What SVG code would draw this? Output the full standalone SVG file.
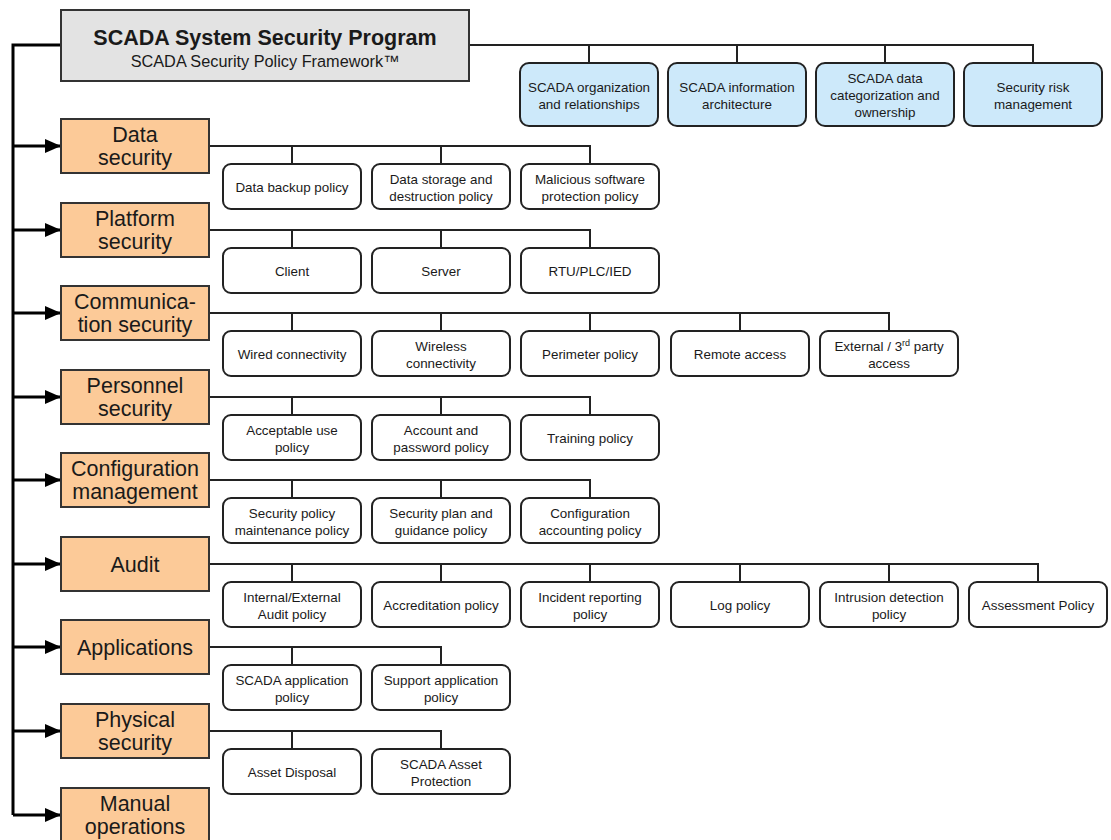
<svg xmlns="http://www.w3.org/2000/svg" width="1111" height="840" viewBox="0 0 1111 840">
<defs>
<marker id="arr" markerUnits="userSpaceOnUse" markerWidth="17" markerHeight="15" refX="16" refY="7" orient="auto"><path d="M0,0 L16,7 L0,14 z" fill="#000"/></marker>
<style>
.t{font-family:"Liberation Sans",Arial,sans-serif;fill:#1a1a1a;text-anchor:middle}
.title{font-size:21.5px;font-weight:bold}
.sub{font-size:16.3px}
.cat{font-size:21.5px}
.ch{font-size:13.4px}
.top{fill:#e3e3e3;stroke:#333;stroke-width:2}
.org{fill:#fcca98;stroke:#333;stroke-width:2}
.blue{fill:#cde9fa;stroke:#222;stroke-width:2}
.box{fill:#fff;stroke:#222;stroke-width:2}
.trunk{fill:none;stroke:#000;stroke-width:3}
.br{fill:none;stroke:#222;stroke-width:2}
</style>
</defs>
<rect width="1111" height="840" fill="#fff"/>
<g id="connectors">
<path class="trunk" d="M61,45 H13 V815"/>
<path class="trunk" d="M13,146 H61" marker-end="url(#arr)"/>
<path class="trunk" d="M13,230 H61" marker-end="url(#arr)"/>
<path class="trunk" d="M13,313 H61" marker-end="url(#arr)"/>
<path class="trunk" d="M13,397 H61" marker-end="url(#arr)"/>
<path class="trunk" d="M13,480 H61" marker-end="url(#arr)"/>
<path class="trunk" d="M13,564 H61" marker-end="url(#arr)"/>
<path class="trunk" d="M13,647 H61" marker-end="url(#arr)"/>
<path class="trunk" d="M13,731 H61" marker-end="url(#arr)"/>
<path class="trunk" d="M13,815 H61" marker-end="url(#arr)"/>
<path class="br" d="M469,45 H1033 V63 M589,45 V63 M737,45 V63 M885,45 V63"/>
<path class="br" d="M209,146 H590 V164 M292,146 V164 M441,146 V164"/>
<path class="br" d="M209,230 H590 V248 M292,230 V248 M441,230 V248"/>
<path class="br" d="M209,313 H889 V331 M292,313 V331 M441,313 V331 M590,313 V331 M740,313 V331"/>
<path class="br" d="M209,397 H590 V415 M292,397 V415 M441,397 V415"/>
<path class="br" d="M209,480 H590 V498 M292,480 V498 M441,480 V498"/>
<path class="br" d="M209,564 H1038 V582 M292,564 V582 M441,564 V582 M590,564 V582 M740,564 V582 M889,564 V582"/>
<path class="br" d="M209,647 H441 V665 M292,647 V665"/>
<path class="br" d="M209,731 H441 V749 M292,731 V749"/>
</g>
<g id="n-program"><rect class="top" x="61" y="10" width="408" height="71"/><text class="t title" x="265" y="45">SCADA System Security Program</text><text class="t sub" x="265" y="67">SCADA Security Policy Framework™</text></g>
<g id="n-org"><rect class="blue" x="520" y="63" width="138" height="63" rx="9"/><text class="t ch" x="589" y="92">SCADA organization</text><text class="t ch" x="589" y="109">and relationships</text></g>
<g id="n-info"><rect class="blue" x="668" y="63" width="138" height="63" rx="9"/><text class="t ch" x="737" y="92">SCADA information</text><text class="t ch" x="737" y="109">architecture</text></g>
<g id="n-datacat"><rect class="blue" x="816" y="63" width="138" height="63" rx="9"/><text class="t ch" x="885" y="83">SCADA data</text><text class="t ch" x="885" y="100">categorization and</text><text class="t ch" x="885" y="117">ownership</text></g>
<g id="n-risk"><rect class="blue" x="964" y="63" width="138" height="63" rx="9"/><text class="t ch" x="1033" y="92">Security risk</text><text class="t ch" x="1033" y="109">management</text></g>

<g id="c-data"><rect class="org" x="61" y="119" width="148" height="54"/><text class="t cat" x="135" y="142">Data</text><text class="t cat" x="135" y="165">security</text></g>
<g id="c-platform"><rect class="org" x="61" y="203" width="148" height="54"/><text class="t cat" x="135" y="226">Platform</text><text class="t cat" x="135" y="249">security</text></g>
<g id="c-comm"><rect class="org" x="61" y="286" width="148" height="54"/><text class="t cat" x="135" y="309">Communica-</text><text class="t cat" x="135" y="332">tion security</text></g>
<g id="c-personnel"><rect class="org" x="61" y="370" width="148" height="54"/><text class="t cat" x="135" y="393">Personnel</text><text class="t cat" x="135" y="416">security</text></g>
<g id="c-config"><rect class="org" x="61" y="453" width="148" height="54"/><text class="t cat" x="135" y="476">Configuration</text><text class="t cat" x="135" y="499">management</text></g>
<g id="c-audit"><rect class="org" x="61" y="537" width="148" height="54"/><text class="t cat" x="135" y="572">Audit</text></g>
<g id="c-apps"><rect class="org" x="61" y="620" width="148" height="54"/><text class="t cat" x="135" y="655">Applications</text></g>
<g id="c-physical"><rect class="org" x="61" y="704" width="148" height="54"/><text class="t cat" x="135" y="727">Physical</text><text class="t cat" x="135" y="750">security</text></g>
<g id="c-manual"><rect class="org" x="61" y="788" width="148" height="54"/><text class="t cat" x="135" y="811">Manual</text><text class="t cat" x="135" y="834">operations</text></g>

<g id="d1"><rect class="box" x="223" y="164" width="138" height="45" rx="8"/><text class="t ch" x="292" y="191.5">Data backup policy</text></g>
<g id="d2"><rect class="box" x="372" y="164" width="138" height="45" rx="8"/><text class="t ch" x="441" y="184">Data storage and</text><text class="t ch" x="441" y="201">destruction policy</text></g>
<g id="d3"><rect class="box" x="521" y="164" width="138" height="45" rx="8"/><text class="t ch" x="590" y="184">Malicious software</text><text class="t ch" x="590" y="201">protection policy</text></g>

<g id="p1"><rect class="box" x="223" y="248" width="138" height="45" rx="8"/><text class="t ch" x="292" y="275.5">Client</text></g>
<g id="p2"><rect class="box" x="372" y="248" width="138" height="45" rx="8"/><text class="t ch" x="441" y="275.5">Server</text></g>
<g id="p3"><rect class="box" x="521" y="248" width="138" height="45" rx="8"/><text class="t ch" x="590" y="275.5">RTU/PLC/IED</text></g>

<g id="m1"><rect class="box" x="223" y="331" width="138" height="45" rx="8"/><text class="t ch" x="292" y="358.5">Wired connectivity</text></g>
<g id="m2"><rect class="box" x="372" y="331" width="138" height="45" rx="8"/><text class="t ch" x="441" y="351">Wireless</text><text class="t ch" x="441" y="368">connectivity</text></g>
<g id="m3"><rect class="box" x="521" y="331" width="138" height="45" rx="8"/><text class="t ch" x="590" y="358.5">Perimeter policy</text></g>
<g id="m4"><rect class="box" x="671" y="331" width="138" height="45" rx="8"/><text class="t ch" x="740" y="358.5">Remote access</text></g>
<g id="m5"><rect class="box" x="820" y="331" width="138" height="45" rx="8"/><text class="t ch" x="889" y="351">External / 3<tspan font-size="9" dy="-5">rd</tspan><tspan dy="5"> party</tspan></text><text class="t ch" x="889" y="368">access</text></g>

<g id="s1"><rect class="box" x="223" y="415" width="138" height="45" rx="8"/><text class="t ch" x="292" y="435">Acceptable use</text><text class="t ch" x="292" y="452">policy</text></g>
<g id="s2"><rect class="box" x="372" y="415" width="138" height="45" rx="8"/><text class="t ch" x="441" y="435">Account and</text><text class="t ch" x="441" y="452">password policy</text></g>
<g id="s3"><rect class="box" x="521" y="415" width="138" height="45" rx="8"/><text class="t ch" x="590" y="442.5">Training policy</text></g>

<g id="g1"><rect class="box" x="223" y="498" width="138" height="45" rx="8"/><text class="t ch" x="292" y="518">Security policy</text><text class="t ch" x="292" y="535">maintenance policy</text></g>
<g id="g2"><rect class="box" x="372" y="498" width="138" height="45" rx="8"/><text class="t ch" x="441" y="518">Security plan and</text><text class="t ch" x="441" y="535">guidance policy</text></g>
<g id="g3"><rect class="box" x="521" y="498" width="138" height="45" rx="8"/><text class="t ch" x="590" y="518">Configuration</text><text class="t ch" x="590" y="535">accounting policy</text></g>

<g id="a1"><rect class="box" x="223" y="582" width="138" height="45" rx="8"/><text class="t ch" x="292" y="602">Internal/External</text><text class="t ch" x="292" y="619">Audit policy</text></g>
<g id="a2"><rect class="box" x="372" y="582" width="138" height="45" rx="8"/><text class="t ch" x="441" y="609.5">Accreditation policy</text></g>
<g id="a3"><rect class="box" x="521" y="582" width="138" height="45" rx="8"/><text class="t ch" x="590" y="602">Incident reporting</text><text class="t ch" x="590" y="619">policy</text></g>
<g id="a4"><rect class="box" x="671" y="582" width="138" height="45" rx="8"/><text class="t ch" x="740" y="609.5">Log policy</text></g>
<g id="a5"><rect class="box" x="820" y="582" width="138" height="45" rx="8"/><text class="t ch" x="889" y="602">Intrusion detection</text><text class="t ch" x="889" y="619">policy</text></g>
<g id="a6"><rect class="box" x="969" y="582" width="138" height="45" rx="8"/><text class="t ch" x="1038" y="609.5">Assessment Policy</text></g>

<g id="ap1"><rect class="box" x="223" y="665" width="138" height="45" rx="8"/><text class="t ch" x="292" y="685">SCADA application</text><text class="t ch" x="292" y="702">policy</text></g>
<g id="ap2"><rect class="box" x="372" y="665" width="138" height="45" rx="8"/><text class="t ch" x="441" y="685">Support application</text><text class="t ch" x="441" y="702">policy</text></g>

<g id="ph1"><rect class="box" x="223" y="749" width="138" height="45" rx="8"/><text class="t ch" x="292" y="776.5">Asset Disposal</text></g>
<g id="ph2"><rect class="box" x="372" y="749" width="138" height="45" rx="8"/><text class="t ch" x="441" y="769">SCADA Asset</text><text class="t ch" x="441" y="786">Protection</text></g>
</svg>
